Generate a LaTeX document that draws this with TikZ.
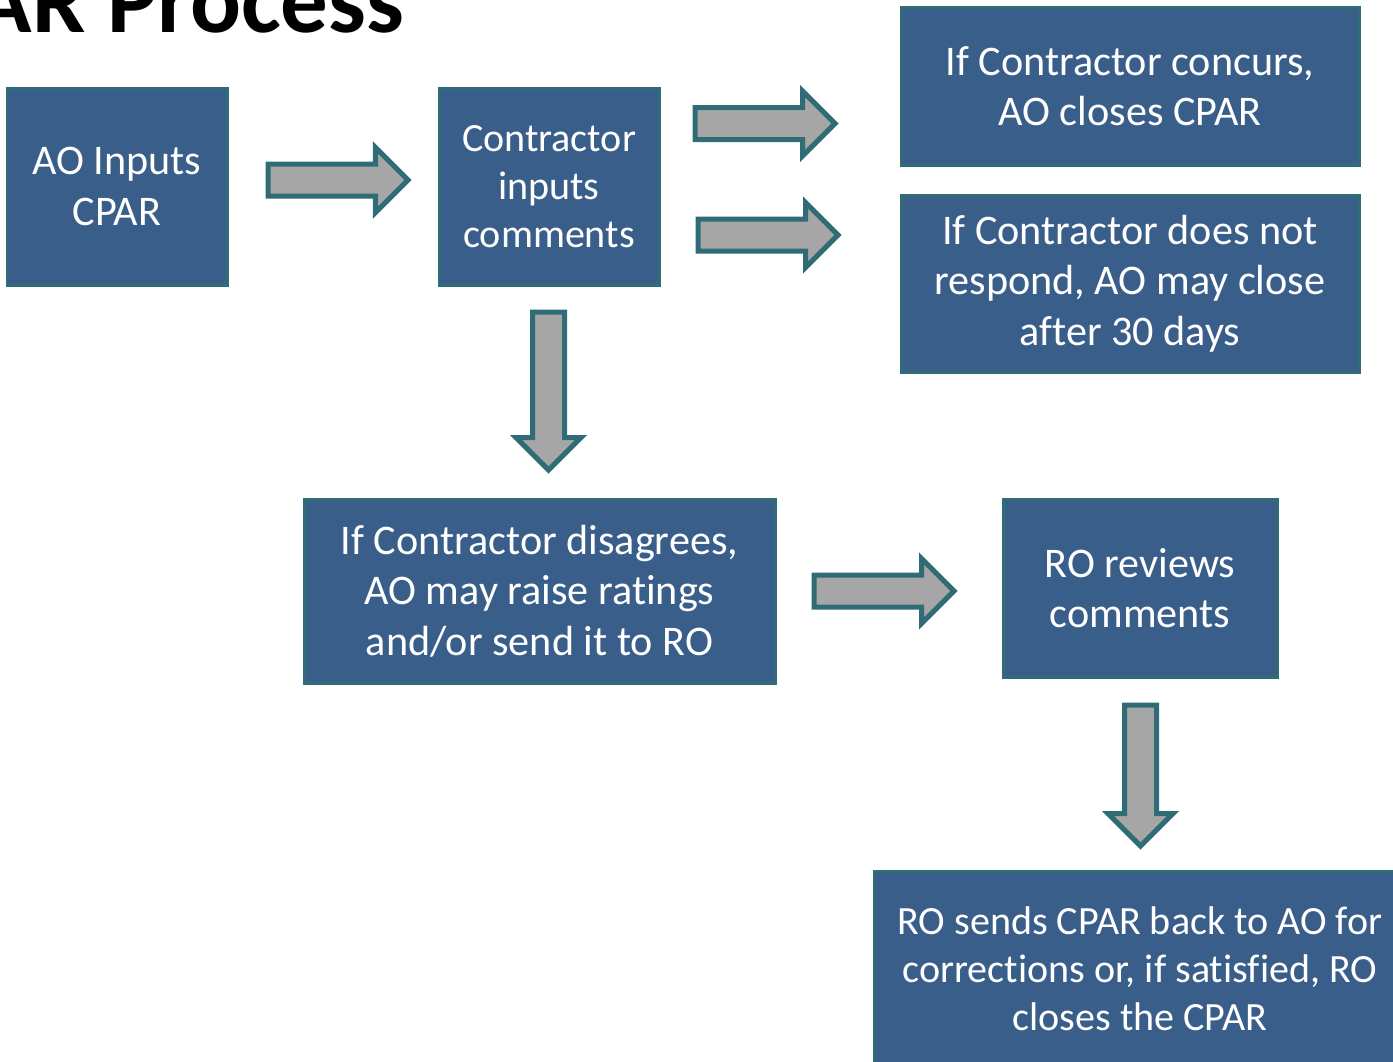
\documentclass[tikz,border=0pt]{standalone}
\usepackage{fontspec}
\setmainfont{Carlito}[Ligatures=NoCommon]
\usepackage{tikz}
\usetikzlibrary{shapes.arrows}
\definecolor{boxblue}{RGB}{58,94,138}
\definecolor{edgeteal}{RGB}{47,108,118}
\definecolor{arrowgray}{RGB}{166,166,166}

\begin{document}
\begin{tikzpicture}[
  box/.style={rectangle,draw=edgeteal,fill=boxblue,line width=0.03cm,inner sep=0pt,
    text=white,align=center,font=\fontsize{12}{14.4}\selectfont},
  smalltext/.style={font=\fontsize{11.4}{13.6}\selectfont},
  bigarrow/.style={single arrow,draw=edgeteal,fill=arrowgray,line width=0.05cm,anchor=tail,
    inner xsep=0pt,inner ysep=0.135cm,single arrow head extend=0.165cm,minimum height=1.4cm}]
\useasboundingbox (0,0) rectangle (13.93,-10.62);

\node[anchor=base east,inner sep=0pt,font=\fontsize{27}{32}\selectfont\bfseries] (title) at (4.05,-0.32) {AR Process};

\node[box,minimum width=2.2cm,minimum height=1.97cm] (aoin) at (1.17,-1.865) {AO Inputs\\CPAR};
\node[box,smalltext,minimum width=2.2cm,minimum height=1.97cm] (conin) at (5.49,-1.865) {Contractor\\inputs\\comments};
\node[box,minimum width=4.58cm,minimum height=1.58cm] (concur) at (11.30,-0.86) {If Contractor concurs,\\AO closes CPAR};
\node[box,minimum width=4.58cm,minimum height=1.77cm] (norespond) at (11.30,-2.835) {If Contractor does not\\respond, AO may close\\after 30 days};
\node[box,minimum width=4.71cm,minimum height=1.84cm] (disagree) at (5.395,-5.91) {If Contractor disagrees,\\AO may raise ratings\\and/or send it to RO};
\node[box,minimum width=2.74cm,minimum height=1.78cm] (roreview) at (11.40,-5.88) {RO reviews\\comments};
\node[box,smalltext,minimum width=5.32cm,minimum height=1.96cm] (rosend) at (11.40,-9.69) {RO sends CPAR back to AO for\\corrections or, if satisfied, RO\\closes the CPAR};

% block arrows, placed by their tails
\node[bigarrow] (a1) at (2.655,-1.80) {};
\node[bigarrow] (a2) at (6.925,-1.235) {};
\node[bigarrow] (a3) at (6.955,-2.35) {};
\node[bigarrow,rotate=-90,minimum height=1.58cm] (a4) at (5.485,-3.095) {};
\node[bigarrow] (a5) at (8.115,-5.91) {};
\node[bigarrow,rotate=-90,minimum height=1.41cm] (a6) at (11.405,-7.025) {};

\end{tikzpicture}
\end{document}
